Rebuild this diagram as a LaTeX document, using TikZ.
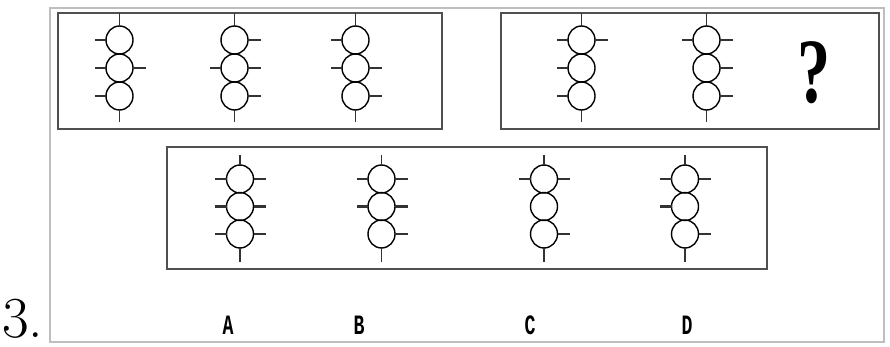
\documentclass[tikz,border=0pt]{standalone}
\usepackage{fontspec}
\newfontfamily\monob{Liberation Mono}
\newfontfamily\serifb{Liberation Serif}
\usetikzlibrary{calc}
\definecolor{boxgray}{RGB}{80,80,80}
\definecolor{framegray}{RGB}{190,190,190}
\tikzset{
  boxline/.style={draw=boxgray, line width=2.2pt},
  frameline/.style={draw=framegray, line width=1.4pt},
  bead/.style={draw=black, line width=1.4pt},
  stub/.style={draw=black!80, line width=1.9pt},
  thickstub/.style={draw=black!80, line width=3pt},
  stem/.style={draw=black!80, line width=1.9pt},
  lab/.style={font=\monob\bfseries\fontsize{28}{28}\selectfont, xscale=0.65, inner sep=0pt},
}
% \beadstack{x}{y of top center}{spacing}{stem top}{stem bottom end}{stub list}
\newcommand\beadstack[6]{%
  \foreach \k in {0,1,2}{
    \draw[bead] (#1,{#2+\k*#3}) circle [x radius=13.5pt, y radius=14pt];
  }
  \draw[stem] (#1,#4) -- (#1,{#2-14});
  \draw[stem] (#1,{#2+2*#3+14}) -- (#1,#5);
  \foreach \k/\s/\st in {#6}{
    \ifnum\s=0
      \draw[\st] ({#1-13.5},{#2+(\k-1)*#3}) -- ({#1-25},{#2+(\k-1)*#3});
    \else
      \draw[\st] ({#1+13.5},{#2+(\k-1)*#3}) -- ({#1+26},{#2+(\k-1)*#3});
    \fi
  }
}
\begin{document}
\begin{tikzpicture}[x=1pt,y=-1pt]
\useasboundingbox (0,0) rectangle (890,347);
\fill[white] (0,0) rectangle (890,347);
\draw[frameline] (50,8) rectangle (884,342);
\draw[boxline] (58,13) rectangle (442,129);
\draw[boxline] (501,13) rectangle (879,129);
\draw[boxline] (167,147) rectangle (767,269);
% row 1, box 1
\beadstack{119.5}{40}{28}{13}{122}{1/0/stub,2/0/stub,2/1/stub,3/0/stub}
\beadstack{234.5}{40}{28}{13}{122}{1/1/stub,2/0/stub,2/1/stub,3/1/stub}
\beadstack{355.5}{40}{28}{13}{122}{1/0/stub,2/0/stub,2/1/stub,3/1/stub}
% row 1, box 2
\beadstack{581.5}{40}{28}{13}{122}{1/0/stub,1/1/stub,2/0/stub,3/0/stub}
\beadstack{706.5}{40}{28}{13}{122}{1/0/stub,1/1/stub,2/1/stub,3/1/stub}
\node[font=\serifb\bfseries\fontsize{92}{92}\selectfont, xscale=0.72, inner sep=0pt] (q) at (814,73) {?};
% options
\beadstack{240}{179}{27.5}{155}{262}{1/0/stub,1/1/stub,2/0/thickstub,2/1/thickstub,3/0/stub,3/1/stub}
\beadstack{381.5}{179}{27.5}{155}{262}{1/0/stub,1/1/stub,2/0/thickstub,2/1/thickstub,3/1/stub}
\beadstack{544}{179}{27.5}{155}{262}{1/0/stub,1/1/stub,3/1/stub}
\beadstack{685}{179}{27.5}{155}{262}{1/0/stub,1/1/stub,2/0/thickstub,3/1/stub}
% labels
\node[lab] (la) at (228,325) {A};
\node[lab] (lb) at (359,325) {B};
\node[lab] (lc) at (530,325) {C};
\node[lab] (ld) at (687,325) {D};
\node[font=\fontsize{58}{60}\selectfont, anchor=base west, inner sep=0pt] (num) at (2,337) {3.};
\end{tikzpicture}
\end{document}
